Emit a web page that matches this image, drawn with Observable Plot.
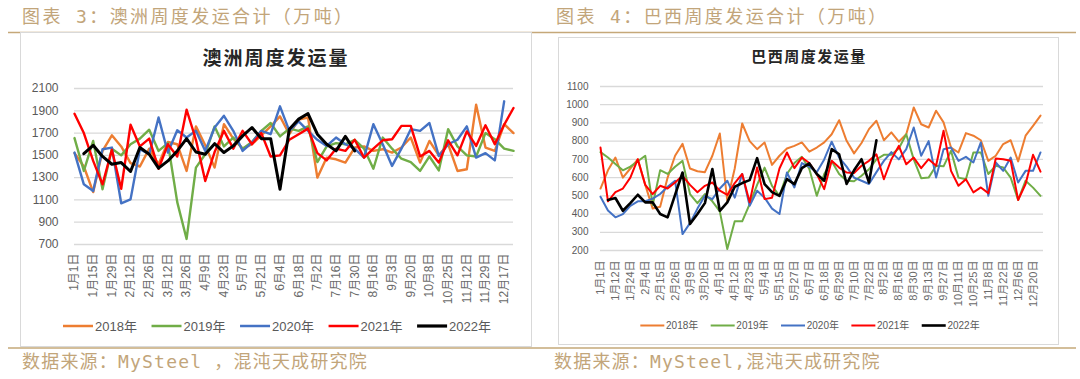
<!DOCTYPE html>
<html><head><meta charset="utf-8">
<script src="https://cdn.jsdelivr.net/npm/d3@7"></script>
<script src="https://cdn.jsdelivr.net/npm/@observablehq/plot@0.6"></script>
<style>
body{margin:0;background:#fff;}
#root{position:relative;width:1080px;height:379px;overflow:hidden;background:#fff;}
#root svg{position:absolute;}
</style></head>
<body><div id="root"></div>
<script>
// ---------- data ----------
const years = ["2018年","2019年","2020年","2021年","2022年"];
const colors = ["#ED7D31","#70AD47","#4472C4","#FF0000","#000000"];

// Australia (澳洲周度发运量)
const auTickLabels = ["1月1日","1月15日","1月29日","2月12日","2月26日","3月12日","3月26日","4月9日","4月23日","5月7日","5月21日","6月4日","6月18日","7月2日","7月16日","7月30日","8月16日","9月3日","9月20日","10月8日","10月25日","11月12日","11月29日","12月17日"];
const auYTicks = [700,900,1100,1300,1500,1700,1900,2100];
const au2018 = [1520,1400,1170,1540,1680,1580,1430,1400,1560,1420,1620,1600,1360,1760,1590,1390,1780,1650,1560,1600,1680,1760,1850,1690,
                1820,1840,1300,1480,1465,1435,1570,1580,1540,1555,1525,1570,1660,1435,1630,1500,1600,1360,1375,1955,1570,1540,1780,1700];
const au2019 = [1655,1360,1630,1195,1560,1500,1600,1650,1730,1540,1610,1080,750,1390,1510,1760,1580,1660,1560,1620,1720,1790,1670,1740,
                1720,1760,1440,1580,1610,1600,1640,1560,1380,1660,1560,1470,1440,1360,1490,1365,1735,1580,1500,1490,1700,1645,1560,1540];
const au2020 = [1525,1240,1180,1555,1570,1070,1105,1555,1510,1840,1525,1725,1660,1720,1540,1750,1855,1720,1540,1615,1720,1690,1940,1720,
                1805,1720,1640,1585,1660,1600,1560,1480,1780,1600,1405,1560,1735,1720,1790,1495,1600,1640,1760,1480,1520,1455,1985,null];
const au2021 = [1873,1700,1450,1240,1550,1200,1775,1580,1650,1380,1600,1490,1910,1640,1270,1530,1720,1560,1720,1600,1700,1490,1500,1640,
                1690,1740,1520,1455,1560,1540,1640,1480,1560,1635,1645,1765,1765,1490,1540,1435,1635,1500,1715,1585,1770,1600,1775,1925];
const au2022 = [null,1515,1590,1490,1420,1435,1355,1570,1510,1385,1450,1540,1650,1530,1510,1605,1525,1585,1675,1750,1650,1650,1195,1735,1825,1875,1690,1600,1540,1670,1540];

// Brazil (巴西周度发运量)
const brTickLabels = ["1月1日","1月12日","1月24日","2月4日","2月15日","2月26日","3月9日","3月20日","4月1日","4月12日","4月23日","5月4日","5月15日","5月27日","6月7日","6月18日","6月29日","7月10日","7月22日","8月2日","8月16日","8月30日","9月13日","9月27日","10月11日","10月25日","11月8日","11月22日","12月6日","12月20日"];
const brYTicks = [200,300,400,500,600,700,800,900,1000,1100];
const br2018 = [540,640,710,600,650,700,560,430,440,600,720,785,650,635,630,720,842,473,650,897,800,756,793,670,720,760,774,793,742,765,
                793,838,915,802,733,790,866,912,805,848,797,838,985,893,875,967,903,765,738,844,830,805,692,720,784,805,689,830,884,940];
const br2019 = [740,710,675,640,660,690,720,450,641,620,660,692,510,460,510,470,415,208,360,360,455,560,655,555,500,620,680,714,647,500,
                620,690,620,583,580,610,646,700,725,725,760,838,700,597,600,665,662,747,600,591,738,738,620,665,655,600,477,583,545,500];
const br2020 = [495,420,382,400,445,470,470,485,510,550,583,290,350,430,500,482,540,583,490,620,445,528,490,430,400,628,546,680,660,630,
                700,797,710,660,600,583,565,630,692,740,700,756,875,720,800,600,756,765,692,714,683,793,500,683,637,710,573,637,637,738];
const br2021 = [765,470,520,540,600,701,560,510,555,540,573,610,560,520,555,573,528,505,570,620,465,656,482,490,650,738,652,710,680,620,
                537,692,655,628,625,665,692,728,591,700,774,673,710,652,701,665,857,637,555,591,519,546,515,705,701,692,477,565,725,633];
const br2022 = [null,477,488,418,460,506,464,464,400,382,505,628,345,400,460,647,418,464,550,570,586,707,564,520,500,592,564,652,678,620,583,756,728,565,640,701,573,805];

// ---------- decorations ----------
const root = document.getElementById("root");
const bg = d3.select(root).append("svg").attr("width",1080).attr("height",379).style("left","0px").style("top","0px");
const gold = "#c5a879";
const hdrFont = '"DejaVu Sans Mono","Noto Sans CJK SC",monospace';
const cjk = '"Liberation Sans","Noto Sans CJK SC",sans-serif';

bg.append("line").attr("x1",8).attr("x2",1076).attr("y1",32.5).attr("y2",32.5).attr("stroke",gold).attr("stroke-width",1.6);
bg.append("rect").attr("x",20.5).attr("y",32.5).attr("width",511).attr("height",314).attr("fill","#fff").attr("stroke","#d9d9d9");
bg.append("rect").attr("x",558.5).attr("y",37.5).attr("width",500).attr("height",307).attr("fill","#fff").attr("stroke","#d9d9d9");
bg.append("line").attr("x1",8).attr("x2",1076).attr("y1",348).attr("y2",348).attr("stroke",gold).attr("stroke-width",1.6);

const heads = [
  {x:22, y:23, t:"图表 3：澳洲周度发运合计（万吨）", ls:"2.4px"},
  {x:556, y:23, t:"图表 4：巴西周度发运合计（万吨）", ls:"2.4px"},
  {x:22, y:368, t:"数据来源：MySteel ，混沌天成研究院", ls:"1.2px"},
  {x:554, y:368, t:"数据来源：MySteel,混沌天成研究院", ls:"1.2px"}
];
heads.forEach(h => bg.append("text").attr("x",h.x).attr("y",h.y).text(h.t)
  .attr("font-family",hdrFont).attr("font-size",18).attr("letter-spacing",h.ls).attr("fill","#c2a57a"));

bg.append("text").attr("x",276).attr("y",65).attr("text-anchor","middle").text("澳洲周度发运量")
  .attr("font-family",'"Noto Sans CJK SC"').attr("font-weight","bold").attr("font-size",19).attr("letter-spacing","2px").attr("fill","#262626");
bg.append("text").attr("x",809).attr("y",62).attr("text-anchor","middle").text("巴西周度发运量")
  .attr("font-family",'"Noto Sans CJK SC"').attr("font-weight","bold").attr("font-size",15).attr("letter-spacing","1.5px").attr("fill","#262626");

function legend(cx, cy, sw, gap, fs, spacing, widths) {
  const g = bg.append("g").attr("font-family",cjk).attr("font-size",fs).attr("fill","#595959");
  const items = years.map((y,k) => {
    const gi = g.append("g");
    gi.append("line").attr("x1",0).attr("x2",sw).attr("y1",0).attr("y2",0).attr("stroke",colors[k]).attr("stroke-width",widths[k]);
    const t = gi.append("text").attr("x",sw+gap).attr("y",0).attr("dominant-baseline","central").text(y);
    const w = sw + gap + t.node().getComputedTextLength();
    return {gi, w};
  });
  const total = d3.sum(items, d => d.w) + spacing*(items.length-1);
  let x = cx - total/2;
  items.forEach(it => { it.gi.attr("transform",`translate(${x},${cy})`); x += it.w + spacing; });
}
legend(277, 326, 30, 2, 13, 14.6, [2.5,2.5,2.5,2.5,3.2]);
legend(810, 325.5, 24, 1.7, 10, 12.4, [2,2,2,2,2.6]);

// ---------- charts ----------
const rows = vals => vals.map((v,i) => ({i, v}));

function chart({series, widths, yTicks, yDomain, xDomain, xRange, tickPos, tickLabels, w, h, m, yPad, xPad, yFont, xFont, left, top}) {
  const marks = [
    Plot.gridY(yTicks, {stroke:"#d9d9d9", strokeOpacity:1, strokeWidth:1.3}),
    Plot.axisY(yTicks, {tickSize:0, tickPadding:yPad, fontSize:yFont, fill:"#595959", tickFormat: d => String(d)}),
    Plot.axisX(tickPos, {tickSize:0, tickPadding:xPad, tickRotate:-90, fontSize:xFont, fill:"#6a6a6a",
      tickFormat: d => tickLabels[Math.round(d/2)]})
  ];
  series.forEach((s,k) => marks.push(Plot.line(rows(s), {x:"i", y:"v", stroke:colors[k], strokeWidth:widths[k],
    strokeLinejoin:"round", strokeLinecap:"round"})));
  const p = Plot.plot({
    width:w, height:h, marginLeft:m[0], marginRight:m[1], marginTop:m[2], marginBottom:m[3],
    x:{domain:xDomain, range:xRange, label:null},
    y:{domain:yDomain, label:null},
    style:{fontFamily:cjk, color:"#595959", background:"transparent", overflow:"visible"},
    marks
  });
  p.style.position = "absolute";
  p.style.left = left + "px";
  p.style.top = top + "px";
  root.appendChild(p);
}

chart({
  series:[au2018,au2019,au2020,au2021,au2022], widths:[2.4,2.4,2.4,2.4,3],
  yTicks:auYTicks, yDomain:[700,2100], xDomain:[0,47], xRange:[54,493],
  tickPos:auTickLabels.map((_,k)=>2*k), tickLabels:auTickLabels,
  w:512, h:314, m:[54,19,55,103], yPad:16, xPad:9, yFont:12, xFont:12, left:20, top:33
});
chart({
  series:[br2018,br2019,br2020,br2021,br2022], widths:[2,2,2,2,2.6],
  yTicks:brYTicks, yDomain:[200,1100], xDomain:[0,59], xRange:[42,482],
  tickPos:brTickLabels.map((_,k)=>2*k), tickLabels:brTickLabels,
  w:501, h:307, m:[42,16,48,95], yPad:12, xPad:10, yFont:10, xFont:11, left:558, top:38
});
</script>
</body></html>
